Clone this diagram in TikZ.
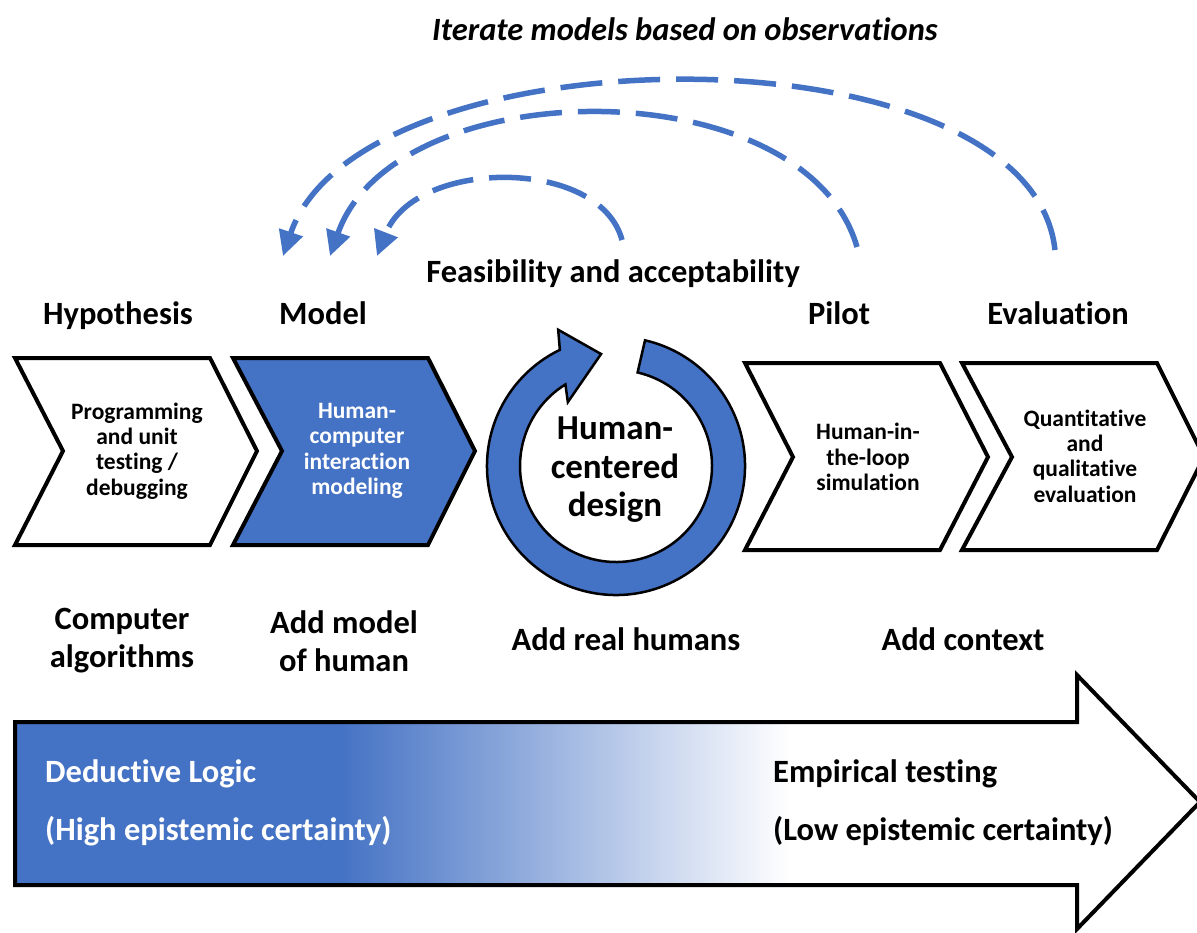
\documentclass[tikz,border=0pt]{standalone}
\usepackage{fontspec}
\setmainfont{Carlito}[Ligatures=NoCommon]
\usetikzlibrary{arrows.meta}
\definecolor{hcblue}{RGB}{68,114,196}
\begin{document}
\begin{tikzpicture}[x=1pt,y=-1pt,
  lbl/.style={font=\fontsize{32.5}{38}\selectfont\bfseries, inner sep=0pt},
  chev/.style={font=\fontsize{23.5}{25.3}\selectfont\bfseries, align=center, inner sep=0pt},
  chevshape/.style={draw=black, line width=4pt, line join=miter},
  loopdash/.style={draw=hcblue, line width=5.5pt, dash pattern=on 42pt off 16pt, -{Triangle[length=25pt,width=24pt]}},
]
\useasboundingbox (0,0) rectangle (1197,932);
\fill[white] (0,0) rectangle (1197,932);

% ---- top title and loop arrows
\node[lbl, anchor=base] (title) at (685,40) {\itshape Iterate models based on observations};
\coordinate (oS) at (1055,250); \coordinate (oE) at (283,256);
\coordinate (mS) at (857,247);  \coordinate (mE) at (330,256);
\coordinate (iS) at (622,240);  \coordinate (iE) at (377,256);
\draw[loopdash] (oS) .. controls (1030,22) and (360,28) .. (oE);
\draw[loopdash] (mS) .. controls (805,67) and (395,70) .. (mE);
\draw[loopdash] (iS) .. controls (600,157) and (415,158) .. (iE);

\node[lbl, anchor=base] (feas) at (613,282) {Feasibility and acceptability};
\node[lbl, anchor=base] (hyp) at (118,324) {Hypothesis};
\node[lbl, anchor=base] (mod) at (323,324) {Model};
\node[lbl, anchor=base] (pil) at (839,324) {Pilot};
\node[lbl, anchor=base] (eva) at (1058,324) {Evaluation};

% ---- chevrons
\path[chevshape, fill=white] (15,358) -- (210,358) -- (257,451) -- (210,545) -- (15,545) -- (63,451) -- cycle;
\path[chevshape, fill=hcblue] (233,358) -- (428,358) -- (475,451) -- (428,545) -- (233,545) -- (282,451) -- cycle;
\path[chevshape, fill=white] (745,363) -- (940,363) -- (988,457) -- (940,550) -- (745,550) -- (793,457) -- cycle;
\path[chevshape, fill=white] (962,363) -- (1157,363) -- (1204,457) -- (1157,550) -- (962,550) -- (1012,457) -- cycle;

\node[chev] (c1) at (137,451) {Programming\\and unit\\testing /\\debugging};
\node[chev, text=white] (c2) at (357,451) {Human-\\computer\\interaction\\modeling};
\node[chev] (c3) at (868,457) {Human-in-\\the-loop\\simulation};
\node[chev] (c4) at (1085,456) {Quantitative\\and\\qualitative\\evaluation};

% ---- circular arrow
\begin{scope}[shift={(616,466)}, y=1pt]
\draw[fill=hcblue, line width=2.5pt, line join=miter]
  (77:129) arc[start angle=77, end angle=-244.2, radius=129pt]
  -- (113:148) -- (97.6:113) -- (127:80) -- (121.8:96)
  arc[start angle=-238.2, end angle=77, radius=96pt] -- cycle;
\end{scope}
\node[font=\fontsize{35}{38.5}\selectfont\bfseries, align=center, inner sep=0pt] (hcd) at (615,470) {Human-\\centered\\design};

% ---- bottom labels
\node[lbl, align=center] (comp) at (122,641) {Computer\\algorithms};
\node[lbl, align=center] (addm) at (344,641) {Add model\\of human};
\node[lbl, anchor=base] (addr) at (626,650) {Add real humans};
\node[lbl, anchor=base] (addc) at (963,650) {Add context};

% ---- big gradient arrow
\fill[hcblue] (15,722) rectangle (340,885);
\shade[left color=hcblue, right color=white] (339,722) rectangle (790,885);
\draw[line width=4pt, line join=miter] (15,722) -- (1077,722) -- (1077,675) -- (1200,802) -- (1077,929) -- (1077,885) -- (15,885) -- cycle;

\node[lbl, anchor=base west, text=white] (ded) at (45,782) {Deductive Logic};
\node[lbl, anchor=base west, text=white] (high) at (45,840) {(High epistemic certainty)};
\node[lbl, anchor=base west] (emp) at (773,782) {Empirical testing};
\node[lbl, anchor=base west] (low) at (773,840) {(Low epistemic certainty)};
\end{tikzpicture}
\end{document}
